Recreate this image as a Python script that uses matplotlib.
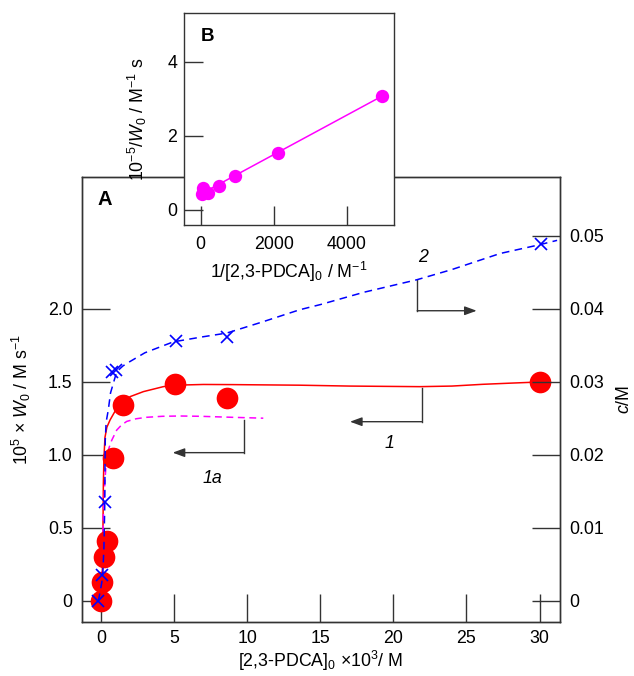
import matplotlib
matplotlib.use('Agg')
import matplotlib.pyplot as plt

plt.rcParams['font.family'] = ['Liberation Sans', 'DejaVu Sans']
plt.rcParams['mathtext.fontset'] = 'custom'
plt.rcParams['mathtext.rm'] = 'Liberation Sans'
plt.rcParams['mathtext.it'] = 'Liberation Sans:italic'
plt.rcParams['mathtext.bf'] = 'Liberation Sans:bold'

# ---- panel A: initial rate W0 (left axis) vs [2,3-PDCA]0 ----
pdca_conc = [0.0, 0.09, 0.2, 0.39, 0.8, 1.48, 5.06, 8.64, 30.0]        # x 10^3 M
rate_w0 = [0.0, 0.128, 0.30, 0.41, 0.98, 1.34, 1.486, 1.39, 1.50]      # x 10^5 M/s

# fitted curve 1 (solid red)
fit1_x = [0.0, 0.08, 0.13, 0.16, 0.2, 0.27, 0.4, 0.62, 0.96, 1.42, 2.0, 2.9,
          4.26, 5.06, 7.0, 9.0, 13.6, 17.0, 21.8, 24.0, 26.1, 28.0, 30.0]
fit1_y = [0.0, 0.15, 0.45, 0.80, 0.98, 1.12, 1.19, 1.24, 1.30, 1.354, 1.40, 1.434,
          1.468, 1.478, 1.483, 1.482, 1.478, 1.472, 1.468, 1.472, 1.484, 1.492, 1.50]

# curve 1a (dashed magenta)
fit1a_x = [0.05, 0.09, 0.13, 0.16, 0.27, 0.39, 0.55, 0.73, 1.07, 1.4, 1.76, 2.4,
           3.1, 4.2, 5.4, 6.8, 9.0, 11.1]
fit1a_y = [0.0, 0.25, 0.45, 0.58, 0.83, 0.99, 1.05, 1.10, 1.17, 1.205, 1.23, 1.248,
           1.258, 1.265, 1.267, 1.265, 1.258, 1.252]

# ---- curve 2: concentration c (right axis) ----
c_x = [-0.23, 0.05, 0.27, 0.73, 1.03, 5.1, 8.6, 30.07]
c_val = [0.0, 0.0036, 0.0136, 0.0314, 0.0316, 0.0356, 0.0362, 0.0489]

fit2_x = [-0.18, 0.05, 0.12, 0.2, 0.26, 0.27, 0.29, 0.35, 0.5, 0.65, 0.84, 1.07,
          1.5, 1.98, 3.0, 4.95, 7.0, 8.6, 11.0, 13.6, 15.0, 18.0, 21.6, 24.0,
          27.3, 30.0, 31.2]
fit2_c = [0.0, 0.0025, 0.0036, 0.0074, 0.0136, 0.018, 0.022, 0.0245, 0.0262,
          0.0285, 0.0298, 0.0314, 0.0322, 0.0328, 0.0340, 0.0355, 0.0362, 0.0367,
          0.0382, 0.0399, 0.0406, 0.0423, 0.0440, 0.0454, 0.0476, 0.0488, 0.0494]

# ---- panel B: double reciprocal plot ----
inv_conc = [30, 70, 210, 500, 950, 2130, 4960]
inv_rate = [0.42, 0.59, 0.47, 0.65, 0.93, 1.53, 3.07]
inv_line_x = [0, 4960]
inv_line_y = [0.43, 3.07]

x_ticks = [0, 5, 10, 15, 20, 25, 30]
y_ticks = [0, 0.5, 1.0, 1.5, 2.0]
y_ticklabels = ['0', '0.5', '1.0', '1.5', '2.0']
c_ticks = [0, 0.01, 0.02, 0.03, 0.04, 0.05]
c_ticklabels = ['0', '0.01', '0.02', '0.03', '0.04', '0.05']
b_xticks = [0, 2000, 4000]
b_yticks = [0, 2, 4]

FS = 12.8
FRAME = '#333333'

fig = plt.figure(figsize=(6.34, 6.76), dpi=100)
ax = fig.add_axes([0.1289, 0.0803, 0.7544, 0.6583])

ax.plot(fit1_x, fit1_y, '-', color='#ff0000', lw=1.1, zorder=2)
ax.plot(fit1a_x, fit1a_y, color='#ff00ff', lw=1.1, dashes=(4.5, 3), zorder=2)
ax.plot(pdca_conc, rate_w0, 'o', color='#ff0000', ms=15.6, mew=0, zorder=3)

ax.set_xlim(-1.32, 31.4)
ylim = (-0.142, 2.906)
ax.set_ylim(*ylim)
ax.set_xticks(x_ticks)
ax.set_yticks(y_ticks)
ax.set_yticklabels(y_ticklabels)
ax.tick_params(axis='both', direction='in', length=20, width=1.0, color=FRAME,
               labelsize=FS, pad=6.5, top=False, right=False)
ax.tick_params(axis='x', pad=6)
for s in ax.spines.values():
    s.set_color(FRAME)
    s.set_linewidth(1.0)
ax.set_xlabel(r'[2,3-PDCA]$_0$ $\times$10$^3$/ M', fontsize=FS, labelpad=1)
ax.set_ylabel(r'10$^5$ $\times$ $W_0$ / M s$^{-1}$', fontsize=FS, labelpad=10.5)
ax.text(0.048, 0.9477, 'A', transform=ax.transAxes, fontsize=14.5,
        fontweight='bold', ha='center', va='center')

# bracket annotations
def bracket(x, y_top, y_corner, x_tip, label, lx, ly):
    ax.plot([x, x], [y_top, y_corner], color=FRAME, lw=1.0, zorder=4)
    ax.annotate('', xy=(x_tip, y_corner), xytext=(x, y_corner),
                arrowprops=dict(arrowstyle='-|>,head_length=0.6,head_width=0.22',
                                color=FRAME, lw=1.0, mutation_scale=12,
                                shrinkA=0, shrinkB=0), zorder=4)
    ax.text(lx, ly, label, fontsize=FS, style='italic', ha='center', va='center')

bracket(21.63, 2.199, 1.988, 25.7, '2', 22.0, 2.351)
bracket(21.94, 1.457, 1.228, 17.03, '1', 19.7, 1.08)
bracket(9.80, 1.24, 1.016, 4.90, '1a', 7.61, 0.84)

ax2 = ax.twinx()
ax2.plot(fit2_x, fit2_c, color='#0000ff', lw=1.1, dashes=(5, 3.5), zorder=2)
ax2.plot(c_x, c_val, 'x', color='#0000ff', ms=9, mew=1.2, zorder=3)
ax2.set_ylim(ylim[0] * 0.02, ylim[1] * 0.02)
ax2.set_yticks(c_ticks)
ax2.set_yticklabels(c_ticklabels)
ax2.tick_params(axis='y', direction='in', length=20, width=1.0, color=FRAME,
                labelsize=FS, pad=6.5)
for s in ax2.spines.values():
    s.set_color(FRAME)
    s.set_linewidth(1.0)
ax2.set_ylabel(r'$c$/M', fontsize=FS, labelpad=9, rotation=90)

# inset B
axb = fig.add_axes([0.2902, 0.6672, 0.3312, 0.3136], zorder=5)
axb.set_facecolor('white')
axb.plot(inv_line_x, inv_line_y, '-', color='#ff00ff', lw=1.1)
axb.plot(inv_conc, inv_rate, 'o', color='#ff00ff', ms=9.6, mew=0)
axb.set_xlim(-458, 5296)
axb.set_ylim(-0.405, 5.32)
axb.set_xticks(b_xticks)
axb.set_yticks(b_yticks)
axb.tick_params(axis='both', direction='in', length=13.7, width=1.0, color=FRAME,
                labelsize=FS, top=False, right=False)
axb.tick_params(axis='x', pad=8)
axb.tick_params(axis='y', pad=5)
for s in axb.spines.values():
    s.set_color(FRAME)
    s.set_linewidth(1.0)
axb.set_xlabel(r'1/[2,3-PDCA]$_0$ / M$^{-1}$', fontsize=FS, labelpad=5)
axb.set_ylabel(r'10$^{-5}$/$W_0$ / M$^{-1}$ s', fontsize=FS, labelpad=13)
axb.text(0.111, 0.888, 'B', transform=axb.transAxes, fontsize=13.5,
         fontweight='bold', ha='center', va='center')

fig.savefig('out.png', dpi=100)
